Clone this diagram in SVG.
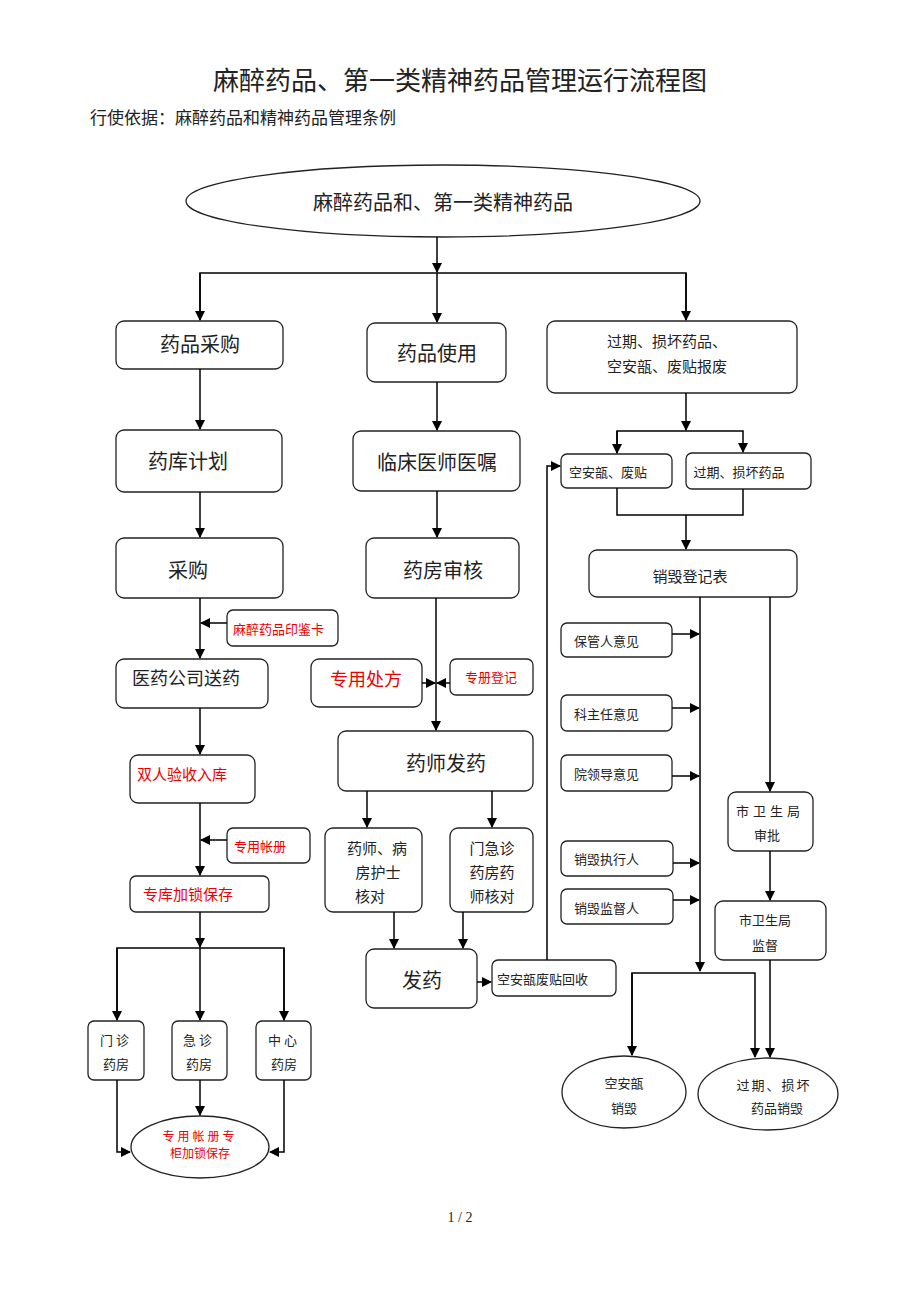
<svg xmlns="http://www.w3.org/2000/svg" width="920" height="1302" viewBox="0 0 920 1302">
<defs>
<marker id="a" markerWidth="10" markerHeight="10" refX="9" refY="5" orient="auto" markerUnits="userSpaceOnUse"><path d="M0,0 L10,5 L0,10 z" fill="#000"/></marker>
<style>
text{font-family:"Noto Sans CJK SC","Noto Sans CJK JP",sans-serif;fill:#222}
.b{fill:#fff;stroke:#222;stroke-width:1.3}
.l{fill:none;stroke:#000;stroke-width:1.5}
.r{fill:#e00}
.t20{font-size:20px}.t15{font-size:15px}.t13{font-size:13px}
</style>
</defs>
<rect width="920" height="1302" fill="#fff"/>
<text x="460" y="90" text-anchor="middle" style="font-size:26px">麻醉药品、第一类精神药品管理运行流程图</text>
<text x="90" y="124" style="font-size:17px">行使依据：麻醉药品和精神药品管理条例</text>
<text x="460" y="1222" text-anchor="middle" style="font-size:14px;font-family:'Liberation Serif',serif">1 / 2</text>

<g id="n0"><ellipse class="b" cx="443" cy="201" rx="257" ry="36"/><text class="t20" x="443" y="210" text-anchor="middle">麻醉药品和、第一类精神药品</text></g>
<g id="n1"><rect class="b" x="116" y="321" width="167" height="48" rx="8"/><text class="t20" x="200" y="352" text-anchor="middle">药品采购</text></g>
<g id="n2"><rect class="b" x="367" y="323" width="139" height="59" rx="8"/><text class="t20" x="437" y="361" text-anchor="middle">药品使用</text></g>
<g id="n3"><rect class="b" x="547" y="321" width="250" height="72" rx="8"/><text class="t15" x="667" y="347" text-anchor="middle">过期、损坏药品、</text><text class="t15" x="667" y="372" text-anchor="middle">空安瓿、废贴报废</text></g>
<g id="n4"><rect class="b" x="116" y="430" width="166" height="62" rx="8"/><text class="t20" x="188" y="469" text-anchor="middle">药库计划</text></g>
<g id="n5"><rect class="b" x="353" y="431" width="167" height="60" rx="8"/><text class="t20" x="437" y="470" text-anchor="middle">临床医师医嘱</text></g>
<g id="n6"><rect class="b" x="561" y="454" width="111" height="34" rx="6"/><text class="t13" x="608" y="477" text-anchor="middle">空安瓿、废贴</text></g>
<g id="n7"><rect class="b" x="686" y="453" width="125" height="36" rx="6"/><text class="t13" x="739" y="477" text-anchor="middle">过期、损坏药品</text></g>
<g id="n8"><rect class="b" x="116" y="538" width="167" height="60" rx="8"/><text class="t20" x="188" y="578" text-anchor="middle">采购</text></g>
<g id="n9"><rect class="b" x="366" y="538" width="153" height="60" rx="8"/><text class="t20" x="443" y="578" text-anchor="middle">药房审核</text></g>
<g id="n10"><rect class="b" x="589" y="550" width="208" height="47" rx="8"/><text class="t15" x="690" y="582" text-anchor="middle">销毁登记表</text></g>
<g id="n11"><rect class="b" x="227" y="610" width="111" height="36" rx="6"/><text class="t13 r" x="233" y="634">麻醉药品印鉴卡</text></g>
<g id="n12"><rect class="b" x="561" y="623" width="111" height="34" rx="6"/><text class="t13" x="574" y="646">保管人意见</text></g>
<g id="n13"><rect class="b" x="116" y="659" width="152" height="49" rx="8"/><text class="t20" x="186" y="685" text-anchor="middle" style="font-size:18px">医药公司送药</text></g>
<g id="n14"><rect class="b" x="311" y="659" width="111" height="48" rx="8"/><text class="r" x="366" y="686" text-anchor="middle" style="font-size:18px">专用处方</text></g>
<g id="n15"><rect class="b" x="450" y="659" width="83" height="36" rx="6"/><text class="t13 r" x="491" y="682" text-anchor="middle">专册登记</text></g>
<g id="n16"><rect class="b" x="561" y="695" width="111" height="36" rx="6"/><text class="t13" x="574" y="719">科主任意见</text></g>
<g id="n17"><rect class="b" x="338" y="731" width="195" height="60" rx="8"/><text class="t20" x="446" y="771" text-anchor="middle">药师发药</text></g>
<g id="n18"><rect class="b" x="130" y="755" width="125" height="48" rx="8"/><text class="r" x="137" y="780" style="font-size:15px">双人验收入库</text></g>
<g id="n19"><rect class="b" x="561" y="755" width="111" height="36" rx="6"/><text class="t13" x="574" y="779">院领导意见</text></g>
<g id="n20"><rect class="b" x="728" y="792" width="85" height="59" rx="8"/><text class="t13" x="770" y="816" text-anchor="middle" letter-spacing="4">市卫生局</text><text class="t13" x="767" y="840" text-anchor="middle">审批</text></g>
<g id="n21"><rect class="b" x="227" y="828" width="83" height="35" rx="6"/><text class="t13 r" x="234" y="851">专用帐册</text></g>
<g id="n22"><rect class="b" x="325" y="828" width="97" height="84" rx="8"/><text class="t15" x="377" y="854" text-anchor="middle">药师、病</text><text class="t15" x="378" y="878" text-anchor="middle">房护士</text><text class="t15" x="370" y="902" text-anchor="middle">核对</text></g>
<g id="n23"><rect class="b" x="450" y="828" width="83" height="84" rx="8"/><text class="t15" x="492" y="854" text-anchor="middle">门急诊</text><text class="t15" x="492" y="878" text-anchor="middle">药房药</text><text class="t15" x="492" y="902" text-anchor="middle">师核对</text></g>
<g id="n24"><rect class="b" x="561" y="841" width="112" height="35" rx="6"/><text class="t13" x="574" y="864">销毁执行人</text></g>
<g id="n25"><rect class="b" x="130" y="876" width="139" height="36" rx="6"/><text class="r" x="143" y="900" style="font-size:15px">专库加锁保存</text></g>
<g id="n26"><rect class="b" x="561" y="889" width="112" height="35" rx="6"/><text class="t13" x="574" y="913">销毁监督人</text></g>
<g id="n27"><rect class="b" x="715" y="901" width="111" height="59" rx="8"/><text class="t13" x="765" y="925" text-anchor="middle">市卫生局</text><text class="t13" x="765" y="950" text-anchor="middle">监督</text></g>
<g id="n28"><rect class="b" x="366" y="949" width="111" height="59" rx="8"/><text class="t20" x="422" y="988" text-anchor="middle">发药</text></g>
<g id="n29"><rect class="b" x="492" y="960" width="124" height="36" rx="6"/><text class="t13" x="497" y="984">空安瓿废贴回收</text></g>
<g id="n30"><rect class="b" x="88" y="1021" width="56" height="59" rx="6"/><text class="t13" x="116" y="1045" text-anchor="middle" letter-spacing="3">门诊</text><text class="t13" x="116" y="1069" text-anchor="middle">药房</text></g>
<g id="n31"><rect class="b" x="172" y="1021" width="55" height="59" rx="6"/><text class="t13" x="199" y="1045" text-anchor="middle" letter-spacing="3">急诊</text><text class="t13" x="199" y="1069" text-anchor="middle">药房</text></g>
<g id="n32"><rect class="b" x="256" y="1021" width="55" height="59" rx="6"/><text class="t13" x="284" y="1045" text-anchor="middle" letter-spacing="3">中心</text><text class="t13" x="284" y="1069" text-anchor="middle">药房</text></g>
<g id="n33"><ellipse class="b" cx="624" cy="1092" rx="62" ry="36"/><text class="t13" x="624" y="1088" text-anchor="middle">空安瓿</text><text class="t13" x="624" y="1113" text-anchor="middle">销毁</text></g>
<g id="n34"><ellipse class="b" cx="768" cy="1094" rx="70" ry="36"/><text class="t13" x="774" y="1090" text-anchor="middle" letter-spacing="2">过期、损坏</text><text class="t13" x="777" y="1113" text-anchor="middle">药品销毁</text></g>
<g id="n35"><ellipse class="b" cx="200" cy="1147" rx="69" ry="31"/><text class="r" x="200" y="1141" text-anchor="middle" letter-spacing="3" style="font-size:12px">专用帐册专</text><text class="r" x="200" y="1158" text-anchor="middle" style="font-size:12px">柜加锁保存</text></g>

<g id="connectors">
<path class="l" d="M437,237 V272" marker-end="url(#a)"/>
<path class="l" d="M200,320 V273 H686 V320" />
<path class="l" d="M200,273 V320" marker-end="url(#a)"/>
<path class="l" d="M437,273 V322" marker-end="url(#a)"/>
<path class="l" d="M686,273 V320" marker-end="url(#a)"/>
<path class="l" d="M200,369 V429" marker-end="url(#a)"/>
<path class="l" d="M437,382 V430" marker-end="url(#a)"/>
<path class="l" d="M686,393 V430" marker-end="url(#a)"/>
<path class="l" d="M617,453 V431 H743 V452" marker-end="url(#a)"/>
<path class="l" d="M617,431 V453" marker-end="url(#a)"/>
<path class="l" d="M200,492 V537" marker-end="url(#a)"/>
<path class="l" d="M437,491 V537" marker-end="url(#a)"/>
<path class="l" d="M617,488 V515 H743 V489"/>
<path class="l" d="M686,515 V549" marker-end="url(#a)"/>
<path class="l" d="M200,598 V658" marker-end="url(#a)"/>
<path class="l" d="M227,623 H201" marker-end="url(#a)"/>
<path class="l" d="M436,598 V730" marker-end="url(#a)"/>
<path class="l" d="M422,683 H435" marker-end="url(#a)"/>
<path class="l" d="M450,683 H437" marker-end="url(#a)"/>
<path class="l" d="M200,708 V754" marker-end="url(#a)"/>
<path class="l" d="M200,803 V875" marker-end="url(#a)"/>
<path class="l" d="M227,840 H201" marker-end="url(#a)"/>
<path class="l" d="M200,912 V947" marker-end="url(#a)"/>
<path class="l" d="M117,1020 V948 H284 V1020"/>
<path class="l" d="M117,948 V1020" marker-end="url(#a)"/>
<path class="l" d="M200,948 V1020" marker-end="url(#a)"/>
<path class="l" d="M284,948 V1020" marker-end="url(#a)"/>
<path class="l" d="M367,791 V827" marker-end="url(#a)"/>
<path class="l" d="M492,791 V827" marker-end="url(#a)"/>
<path class="l" d="M394,912 V948" marker-end="url(#a)"/>
<path class="l" d="M463,912 V948" marker-end="url(#a)"/>
<path class="l" d="M477,982 H491" marker-end="url(#a)"/>
<path class="l" d="M547,960 V466 H560" marker-end="url(#a)"/>
<path class="l" d="M700,597 V971" marker-end="url(#a)"/>
<path class="l" d="M770,597 V791" marker-end="url(#a)"/>
<path class="l" d="M672,634 H699" marker-end="url(#a)"/>
<path class="l" d="M672,708 H699" marker-end="url(#a)"/>
<path class="l" d="M672,776 H699" marker-end="url(#a)"/>
<path class="l" d="M673,863 H699" marker-end="url(#a)"/>
<path class="l" d="M673,900 H699" marker-end="url(#a)"/>
<path class="l" d="M770,851 V900" marker-end="url(#a)"/>
<path class="l" d="M632,1055 V973 H755 V1057" marker-end="url(#a)"/>
<path class="l" d="M632,973 V1055" marker-end="url(#a)"/>
<path class="l" d="M770,960 V1057" marker-end="url(#a)"/>
<path class="l" d="M117,1080 V1152 H130" marker-end="url(#a)"/>
<path class="l" d="M200,1080 V1115" marker-end="url(#a)"/>
<path class="l" d="M284,1080 V1152 H270" marker-end="url(#a)"/>
</g>
</svg>
